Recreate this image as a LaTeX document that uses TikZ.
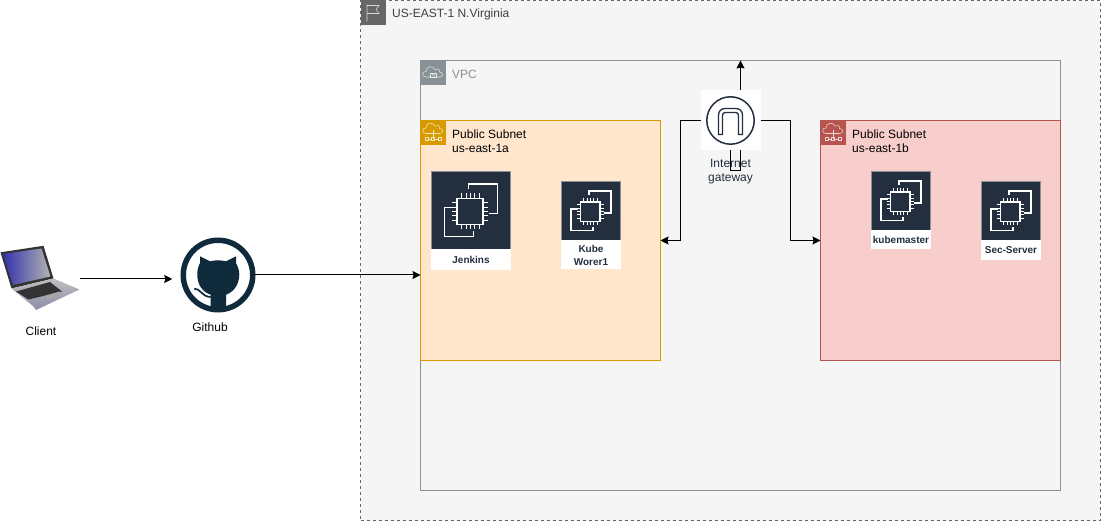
\documentclass[tikz,border=0pt]{standalone}
\usepackage{fontspec}
\setmainfont{Liberation Sans}
\usetikzlibrary{calc}
\usetikzlibrary{positioning}
\usetikzlibrary{arrows.meta}
\definecolor{awsdark}{HTML}{232F3E}
\definecolor{ghdark}{HTML}{0F2A3A}
\definecolor{vpcgrey}{HTML}{879196}
\tikzset{
  region/.style={shape=rectangle, anchor=north west, inner sep=0pt, outer sep=0pt},
  headbox/.style={shape=rectangle, anchor=north west, inner sep=0pt, outer sep=0pt, minimum size=25pt},
  headtext/.style={anchor=west, align=left, inner sep=0pt, font=\fontsize{12}{14}\selectfont},
  ec2box/.style={shape=rectangle, anchor=north west, inner sep=0pt, outer sep=0pt, fill=awsdark, draw=vpcgrey, line width=0.5pt},
  ec2label/.style={shape=rectangle, anchor=north, inner sep=0pt, outer sep=0pt, fill=white, align=center, text=awsdark, font=\fontsize{10}{13}\selectfont\bfseries},
  link/.style={line width=1pt, -{Stealth[length=8pt,width=8pt,inset=1pt]}},
  iconline/.style={line width=0.55pt, draw=white, draw opacity=0.75},
  pics/chipicon/.style={code={
    \draw[white, line width=1.3pt] (-2.8,-21) -- (-2.8,-26.5) -- (26.8,-26.5) -- (26.8,2.8) -- (17.8,2.8);
    \draw[white, line width=1.3pt] (-17.2,-2.8) -- (-26.5,-2.8) -- (-26.5,26.2) -- (2.8,26.2) -- (2.8,21);
    \draw[white, line width=1.5pt] (-13.8,-12.2) rectangle (12.2,13.8);
    \foreach \p in {-9.8,-4.8,-0.8,3.2,8.2} {
      \draw[white, line width=1.1pt] (\p,-12.2) -- (\p,-17) (\p,13.8) -- (\p,18.6);
      \draw[white, line width=1.1pt] (-13.8,\p+1.6) -- (-18.6,\p+1.6) (12.2,\p+1.6) -- (17,\p+1.6);
    }
  }},
  pics/cloudicon/.style={code={
    \draw[iconline] (-7,3) .. controls (-11.5,3) and (-11.5,-3) .. (-7,-2.5) .. controls (-7,-8) and (0,-9) .. (2,-4.5) .. controls (4,-6) and (7,-5) .. (6.5,-2) .. controls (10.5,-2) and (10.5,3) .. (7,3) -- cycle;
  }},
  pics/flagicon/.style={code={
    \draw[iconline] (-6,9) -- (-6,-8) (-6,-7) -- (6,-7) -- (3,-3) -- (6,1) -- (-6,1);
  }},
  pics/tunnelicon/.style={code={
    \draw[awsdark, line width=1.5pt] (0,0) circle (23.7);
    \draw[awsdark, line width=1.3pt] (-12,14) -- (-12,-5) .. controls (-12,-10) and (-9,-12) .. (-5,-12) -- (5,-12) .. controls (9,-12) and (12,-10) .. (12,-5) -- (12,14) -- (8,14) -- (8,-5) .. controls (8,-7) and (7,-8) .. (5,-8) -- (-5,-8) .. controls (-7,-8) and (-8,-7) .. (-8,-5) -- (-8,14) -- cycle;
  }}
}

\begin{document}
\begin{tikzpicture}[x=1pt, y=-1pt]
  \useasboundingbox (0,0) rectangle (1101,521);

  % regions
  \node[region, draw=black!60, dashed, fill=black!4, line width=0.6pt, minimum width=739.5pt, minimum height=520pt] (usEast) at (360.5,0.5) {};
  \node[region, draw=vpcgrey, minimum width=640pt, minimum height=430pt] (vpc) at (420.5,60.5) {};
  \node[region, draw={rgb,255:red,215;green,155;blue,0}, fill={rgb,255:red,255;green,230;blue,204}, minimum width=240pt, minimum height=240pt] (subnetA) at (420.5,120.5) {};
  \node[region, draw={rgb,255:red,184;green,84;blue,80}, fill={rgb,255:red,248;green,206;blue,204}, minimum width=240pt, minimum height=240pt] (subnetB) at (820.5,120.5) {};

  % header squares
  \node[headbox, fill=black!60] (usEastHead) at (360.5,0) {};
  \node[headbox, fill=vpcgrey] (vpcHead) at (420.5,60.5) {};
  \node[headbox, fill={rgb,255:red,215;green,155;blue,0}] (subnetAHead) at (420.5,120.5) {};
  \node[headbox, fill={rgb,255:red,184;green,84;blue,80}] (subnetBHead) at (820.5,120.5) {};
  \pic at (usEastHead.center) {flagicon};
  \pic at ([yshift=-1pt]vpcHead.center) {cloudicon};
  \pic at ([yshift=2.5pt]subnetAHead.center) {cloudicon};
  \pic at ([yshift=2.5pt]subnetBHead.center) {cloudicon};
  % lock in the VPC cloud
  \draw[iconline] (430.5,73.5) rectangle (436.5,77.5) (431.7,73.5) arc[start angle=180, end angle=0, radius=1.8];
  % subnet feet
  \foreach \hx in {433,833} {
    \draw[iconline] (\hx,130) -- (\hx,139) (\hx-5,139) -- (\hx-1.5,139) (\hx+1.5,139) -- (\hx+5,139);
    \draw[iconline] (\hx-8,137.5) rectangle (\hx-5,140.5);
    \draw[iconline] (\hx+5,137.5) rectangle (\hx+8,140.5) (\hx-1.5,137.5) rectangle (\hx+1.5,140.5);
  }

  \node[headtext, text=black!75] (usEastText) at (392,14) {US-EAST-1 N.Virginia};
  \node[headtext, text=vpcgrey] (vpcText) at (452,74) {VPC};
  \node[headtext] (subnetAText) at (452,141) {Public Subnet\\us-east-1a};
  \node[headtext] (subnetBText) at (852,141) {Public Subnet\\us-east-1b};

  % instances
  \node[ec2box, minimum width=79pt, minimum height=78pt] (jenkins) at (431.5,171.5) {};
  \node[ec2label, minimum width=80pt, minimum height=21pt] (jenkinsText) at (jenkins.south) {Jenkins};
  \node[ec2box, minimum width=59pt, minimum height=59pt] (kubeWorker) at (561.5,181.5) {};
  \node[ec2label, minimum width=60pt, minimum height=29pt] (kubeWorkerText) at (kubeWorker.south) {Kube\\Worer1};
  \node[ec2box, minimum width=59pt, minimum height=59pt] (kubeMaster) at (871.5,171.5) {};
  \node[ec2label, minimum width=60pt, minimum height=19pt] (kubeMasterText) at (kubeMaster.south) {kubemaster};
  \node[ec2box, minimum width=59pt, minimum height=59pt] (secServer) at (981.5,181.5) {};
  \node[ec2label, minimum width=60pt, minimum height=20pt] (secServerText) at (secServer.south) {Sec-Server};
  \pic at (jenkins.center) {chipicon};
  \pic[scale=0.75] at (kubeWorker.center) {chipicon};
  \pic[scale=0.75] at (kubeMaster.center) {chipicon};
  \pic[scale=0.75] at (secServer.center) {chipicon};

  % gateway
  \node[shape=rectangle, fill=white, inner sep=0pt, outer sep=0pt, minimum size=60pt] (gateway) at (730.5,120.5) {};
  \pic at (gateway.center) {tunnelicon};
  \node[anchor=north, inner sep=0pt, align=center, text=awsdark, font=\fontsize{12}{14}\selectfont] (gatewayText) at (730.5,159) {Internet\\gateway};

  % client laptop
  \node[shape=rectangle, inner sep=0pt, outer sep=0pt, minimum width=80pt, minimum height=66pt] (client) at (40,279) {};
  \fill[black!80] (0.5,252.3) -- (43.5,245.8) -- (53.5,278.5) -- (11.5,288.5) -- cycle;
  \shade[left color=blue!60!black!80!white, right color=black!30] (3,254) -- (41.5,248.5) -- (50.5,276.5) -- (13,285) -- cycle;
  \shade[top color=black!25, bottom color=blue!25!black!45] (11.5,288.5) -- (53.5,278.5) -- (79.5,289.5) -- (36,310) -- (33,306) -- cycle;
  \fill[black!80] (16,291.5) -- (50,282) -- (62,291.5) -- (28.5,299.5) -- cycle;
  \fill[black!35] (44.5,296) -- (59.5,291.5) -- (61.5,295) -- (47,299) -- cycle;
  \node[inner sep=0pt, font=\fontsize{12}{14}\selectfont] (clientText) at (41,331.5) {Client};

  % github
  \node[shape=circle, draw=ghdark, line width=5.5pt, fill=white, inner sep=0pt, outer sep=0pt, minimum size=69.5pt] (github) at (218,275) {};
  \fill[ghdark, shift={(218,275)}] (-7.3,35) -- (-7.3,19.7) .. controls (-16,17) and (-20.7,9) .. (-20.7,-0.3) .. controls (-20.7,-5) and (-20,-8) .. (-18,-12) -- (-18,-18.7) -- (-8,-13.7) .. controls (-3,-15) and (3,-15) .. (8,-13.7) -- (18,-18.7) -- (18,-12) .. controls (20,-8) and (21.3,-5) .. (21.3,-0.3) .. controls (21.3,9) and (16,17) .. (8,19.7) -- (8,35) -- cycle;
  \draw[ghdark, line width=1.7pt, shift={(218,275)}] (-23.7,13.7) .. controls (-18,13) and (-16,22) .. (-7.3,22);
  \node[inner sep=0pt, font=\fontsize{12}{14}\selectfont] (githubText) at (210,327) {Github};

  % connectors
  \draw[link] (client.east) -- ([xshift=-11pt]github.west |- client.east);
  \draw[link] (github.east) -- (github.east -| subnetA.west);
  \draw[link] ([xshift=10pt]gateway.north) -- ([xshift=10pt]gateway.north |- vpc.north);
  \draw[link] (gateway.west) -- ++(-20,0) |- (subnetA.east);
  \draw[link] (gateway.east) -- ++(29.5,0) |- (subnetB.west);
  \draw[line width=1pt] (gateway.south) -- ++(0,20) -- ++(10,0) -- ([xshift=10pt]gateway.south);
\end{tikzpicture}
\end{document}
